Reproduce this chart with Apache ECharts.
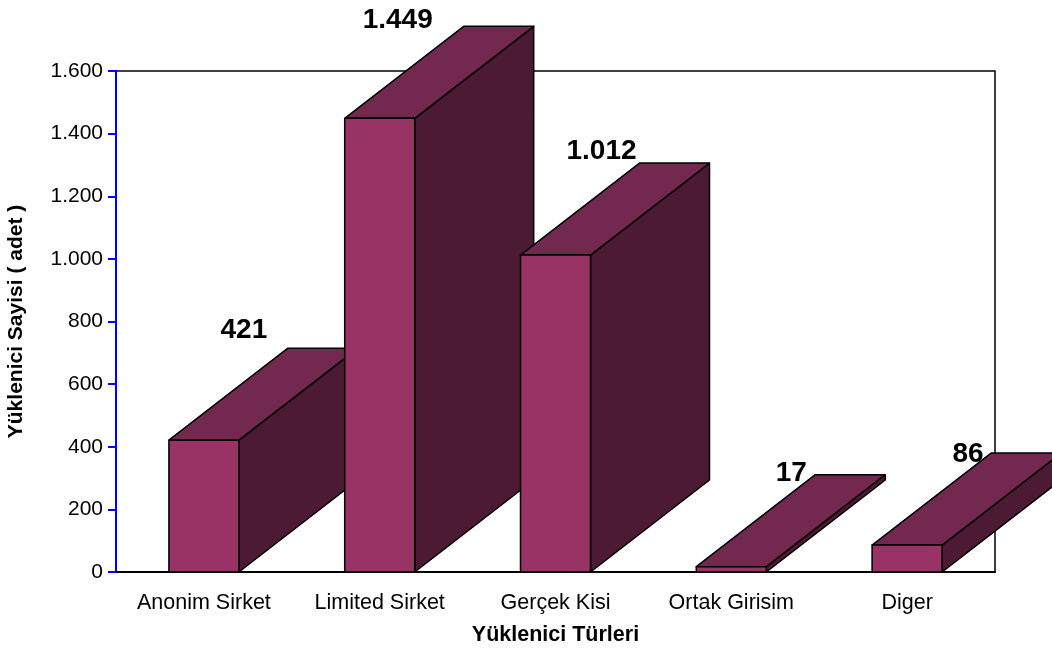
<!DOCTYPE html>
<html>
<head>
<meta charset="utf-8">
<script src="https://cdn.jsdelivr.net/npm/echarts@6/dist/echarts.min.js"></script>
<style>
html,body{margin:0;padding:0;background:#fff;}
#chart{width:1052px;height:648px;}
</style>
</head>
<body>
<div id="chart"></div>
<script>
// ---- data ----
const categories = ['Anonim Sirket', 'Limited Sirket', 'Gerçek Kisi', 'Ortak Girisim', 'Diger'];
const values = [421, 1449, 1012, 17, 86];
const yTicks = [0, 200, 400, 600, 800, 1000, 1200, 1400, 1600];

// ---- style ----
const FRONT = '#993366', TOP = '#73294F', SIDE = '#4C1B33';
const BAR_W = 70, DEPTH_X = 119, DEPTH_Y = -92;
const labelOffsets = [[40, -110], [18, -98], [46, -104], [60, -93], [61, -91]];
const FONT = '"Liberation Sans", Arial, sans-serif';

function fmt(v) {
  return String(v).replace(/\B(?=(\d{3})+(?!\d))/g, '.');
}

const chart = echarts.init(document.getElementById('chart'), null, {renderer: 'canvas'});

chart.setOption({
  animation: false,
  backgroundColor: '#fff',
  grid: {
    left: 116, right: 57, top: 71, bottom: 76,
    outerBoundsMode: 'none', containLabel: false,
    show: true, borderColor: '#000', borderWidth: 1.5, backgroundColor: 'transparent'
  },
  xAxis: {
    type: 'category',
    data: categories,
    name: 'Yüklenici Türleri',
    nameLocation: 'middle',
    nameGap: 52,
    nameTextStyle: {fontFamily: FONT, fontSize: 21.5, fontWeight: 'bold', color: '#000'},
    axisLine: {lineStyle: {color: '#000', width: 2}},
    axisTick: {show: false},
    axisLabel: {fontFamily: FONT, fontSize: 21.5, color: '#000', margin: 20, interval: 0},
    splitLine: {show: false}
  },
  yAxis: {
    type: 'value',
    min: yTicks[0], max: yTicks[yTicks.length - 1], interval: yTicks[1] - yTicks[0],
    name: 'Yüklenici Sayisi ( adet )',
    nameLocation: 'middle',
    nameGap: 89,
    nameRotate: 90,
    nameTextStyle: {fontFamily: FONT, fontSize: 21, fontWeight: 'bold', color: '#000'},
    axisLine: {show: true, lineStyle: {color: '#0000FF', width: 2}},
    axisTick: {show: true, inside: false, length: 8, lineStyle: {color: '#0000FF', width: 2}},
    axisLabel: {fontFamily: FONT, fontSize: 21, color: '#000', margin: 13, formatter: fmt},
    splitLine: {show: false}
  },
  series: [{
    type: 'custom',
    clip: false,
    z: 10,
    data: values.map((v, i) => [i, v]),
    renderItem: function (params, api) {
      const idx = api.value(0);
      const val = api.value(1);
      const top = api.coord([idx, val]);
      const base = api.coord([idx, 0]);
      const x0 = top[0] - BAR_W / 2, x1 = top[0] + BAR_W / 2;
      const yT = top[1], yB = base[1];
      const stroke = {stroke: '#000', lineWidth: 1.5, lineJoin: 'round'};
      const off = labelOffsets[params.dataIndex] || [40, -100];
      return {
        type: 'group',
        children: [
          {type: 'polygon', shape: {points: [[x1, yT], [x1 + DEPTH_X, yT + DEPTH_Y], [x1 + DEPTH_X, yB + DEPTH_Y], [x1, yB]]},
            style: Object.assign({fill: SIDE}, stroke)},
          {type: 'polygon', shape: {points: [[x0, yT], [x1, yT], [x1 + DEPTH_X, yT + DEPTH_Y], [x0 + DEPTH_X, yT + DEPTH_Y]]},
            style: Object.assign({fill: TOP}, stroke)},
          {type: 'rect', shape: {x: x0, y: yT, width: BAR_W, height: yB - yT},
            style: Object.assign({fill: FRONT}, stroke)},
          {type: 'text', x: top[0] + off[0], y: yT + off[1],
            style: {text: fmt(val), fill: '#000', font: 'bold 28px ' + FONT, align: 'center', verticalAlign: 'middle'}}
        ]
      };
    }
  }]
});
</script>
</body>
</html>
